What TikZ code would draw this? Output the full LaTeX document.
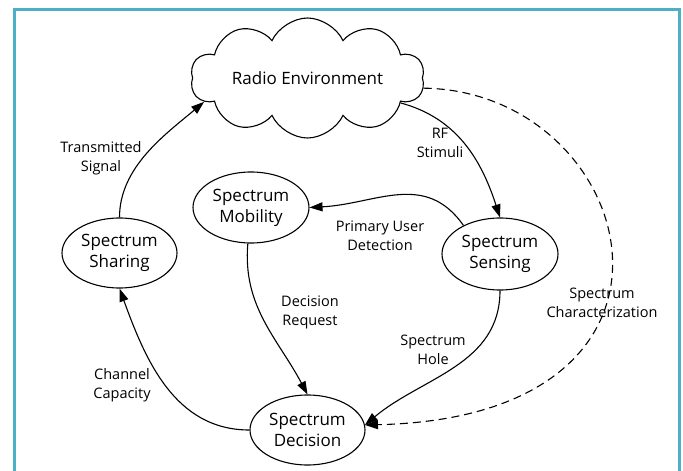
\documentclass[tikz,border=0pt]{standalone}
\usepackage{fontspec}
\setmainfont{Open Sans}
\usetikzlibrary{shapes.geometric,shapes.symbols,arrows.meta}
\definecolor{framecol}{HTML}{4DB0C8}
\begin{document}
\begin{tikzpicture}[x=1pt,y=-1pt,
  state/.style={draw,ellipse,line width=1.1pt,inner sep=0pt,align=center,
    font=\fontsize{17}{21}\selectfont,minimum width=116pt,minimum height=71pt},
  lbl/.style={align=center,font=\fontsize{14.5}{19}\selectfont,inner sep=0pt},
  conn/.style={line width=1.1pt,-{Triangle[length=13pt,width=9pt]}},
  ]
\fill[white] (0,0) rectangle (683,471);
\useasboundingbox (0,0) rectangle (683,471);
\draw[framecol,line width=3pt] (14,471) -- (14,9.5) -- (679.5,9.5) -- (679.5,471);

\node[draw,cloud,cloud puffs=10,cloud puff arc=130,cloud ignores aspect,line width=1.1pt,
  minimum width=234pt,minimum height=120pt,inner sep=0pt,
  font=\fontsize{17}{21}\selectfont] (re) at (307.5,78) {Radio Environment};
\node[state] (mo) at (251,207.5) {Spectrum\\Mobility};
\node[state,minimum height=72pt] (se) at (500,254) {Spectrum\\Sensing};
\node[state,minimum width=115pt,minimum height=70pt] (sh) at (119.5,253) {Spectrum\\Sharing};
\node[state,minimum width=115pt,minimum height=70pt] (de) at (307.5,430) {Spectrum\\Decision};

\draw[conn] (sh.north) to[out=90,in=220,looseness=0.9] (re.193);
\draw[conn] (re.345) to[out=-15,in=108] (se.north);
\draw[conn] (se.142) to[out=125,in=3,looseness=1.1] (mo.east);
\draw[conn] (mo.265) to[out=-95,in=118] (de.north);
\draw[conn] (se.south) to[out=-90,in=40] (de.5);
\draw[conn] (de.west) to[out=180,in=-70] (sh.south);
\draw[conn,dashed,dash pattern=on 8pt off 5pt] (re.355) .. controls +(215,3) and +(362,-8) .. (de.5);

\node[lbl] (l1) at (101,158) {Transmitted\\Signal};
\node[lbl] (l2) at (440,143) {RF\\Stimuli};
\node[lbl] (l3) at (380,236) {Primary User\\Detection};
\node[lbl] (l4) at (310,312) {Decision\\Request};
\node[lbl] (l5) at (433,350) {Spectrum\\Hole};
\node[lbl] (l6) at (122,385) {Channel\\Capacity};
\node[lbl] (l7) at (602,303) {Spectrum\\Characterization};
\end{tikzpicture}
\end{document}
